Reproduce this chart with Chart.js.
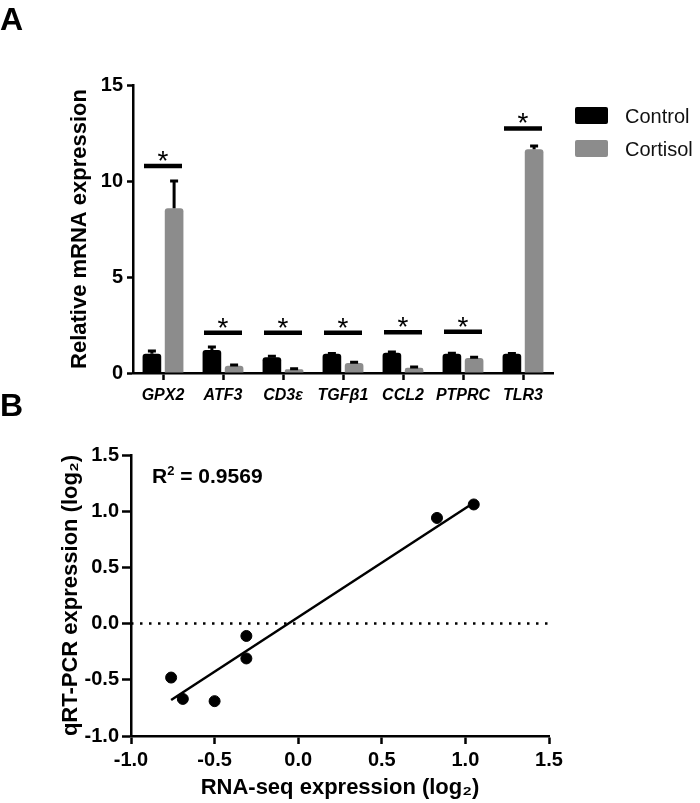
<!DOCTYPE html>
<html>
<head>
<meta charset="utf-8">
<script src="https://cdn.jsdelivr.net/npm/chart.js@4/dist/chart.umd.min.js"></script>
<style>
body { margin: 0; background: #fff; }
#wrap { position: relative; width: 700px; height: 803px; font-family: 'Liberation Sans', Arial, sans-serif; color: #000; }
canvas { position: absolute; left: 0; }
#grafico-a { top: 0; }
#grafico-b { top: 400px; }
.letra { position: absolute; left: 0; font-weight: bold; font-size: 32px; line-height: 1; }
#r2 { position: absolute; left: 152px; top: 465px; font-weight: bold; font-size: 21px; line-height: 1; white-space: nowrap; }
#r2 span { font-size: 13px; position: relative; top: -8px; }
</style>
</head>
<body>
<div id="wrap">
  <canvas id="grafico-a" width="700" height="412"></canvas>
  <canvas id="grafico-b" width="700" height="403"></canvas>
  <div class="letra" style="top:3px">A</div>
  <div class="letra" style="top:389px">B</div>
  <div id="r2">R<span>2</span> = 0.9569</div>
</div>
<script>
// painel A - dados
var genes = ["GPX2", "ATF3", "CD3ε", "TGFβ1", "CCL2", "PTPRC", "TLR3"];
var controle = [1.0, 1.2, 0.82, 1.0, 1.05, 1.0, 1.0];
var controleErro = [0.15, 0.15, 0.05, 0.02, 0.05, 0.03, 0.02];
var cortisol = [8.58, 0.38, 0.19, 0.52, 0.27, 0.78, 11.65];
var cortisolErro = [1.42, 0.04, 0.03, 0.04, 0.04, 0.04, 0.17];
var significancia = [10.78, 2.1, 2.1, 2.1, 2.12, 2.15, 12.74];
var ticksA = [0, 5, 10, 15];

// painel B - dados
var rnaSeq = [-0.76, -0.69, -0.50, -0.31, -0.31, 0.83, 1.05];
var qpcr = [-0.48, -0.67, -0.69, -0.11, -0.31, 0.94, 1.06];
var ajusteX = [-0.76, 1.05];
var ajusteY = [-0.68, 1.075];
var zeroX = [-1.0, 1.5];
var zeroY = [0, 0];

Chart.defaults.font.family = "'Liberation Sans', Arial, sans-serif";
Chart.defaults.color = "#000";

function pares(xs, ys) {
    return xs.map(function (v, i) { return {x: v, y: ys[i]}; });
}

var extrasA = {
    id: "extrasA",
    afterDatasetsDraw: function (chart) {
        var ctx = chart.ctx;
        var escalaY = chart.scales.y;
        var escalaX = chart.scales.x;
        // barras de erro
        [controleErro, cortisolErro].forEach(function (erros, d) {
            var meta = chart.getDatasetMeta(d);
            var valores = chart.data.datasets[d].data;
            meta.data.forEach(function (barra, i) {
                var yBase = escalaY.getPixelForValue(valores[i]);
                var yTopo = escalaY.getPixelForValue(valores[i] + erros[i]);
                ctx.save();
                ctx.strokeStyle = "#000";
                ctx.lineWidth = 3;
                ctx.beginPath();
                ctx.moveTo(barra.x, yBase);
                ctx.lineTo(barra.x, yTopo);
                ctx.moveTo(barra.x - 4, yTopo);
                ctx.lineTo(barra.x + 4, yTopo);
                ctx.stroke();
                ctx.restore();
            });
        });
        // linhas de significancia
        significancia.forEach(function (v, i) {
            var cx = escalaX.getPixelForValue(i);
            var cy = escalaY.getPixelForValue(v);
            ctx.save();
            ctx.strokeStyle = "#000";
            ctx.lineWidth = 4.5;
            ctx.beginPath();
            ctx.moveTo(cx - 19, cy);
            ctx.lineTo(cx + 19, cy);
            ctx.stroke();
            ctx.fillStyle = "#000";
            ctx.font = "28px 'Liberation Sans', Arial, sans-serif";
            ctx.textAlign = "center";
            ctx.textBaseline = "alphabetic";
            ctx.fillText("*", cx, cy + 4);
            ctx.restore();
        });
    },
    afterDraw: function (chart) {
        // legenda
        var ctx = chart.ctx;
        var area = chart.chartArea;
        chart.data.datasets.forEach(function (ds, i) {
            var bx = area.right + 22;
            var by = area.top + 22 + i * 33;
            ctx.save();
            ctx.fillStyle = ds.backgroundColor;
            ctx.beginPath();
            ctx.roundRect(bx, by, 33, 17, 2);
            ctx.fill();
            ctx.fillStyle = "#111";
            ctx.font = "20px 'Liberation Sans', Arial, sans-serif";
            ctx.textAlign = "left";
            ctx.textBaseline = "alphabetic";
            ctx.fillText(ds.label, bx + 50, by + 16);
            ctx.restore();
        });
    }
};

var graficoA = new Chart(document.querySelector("#grafico-a").getContext("2d"), {
    type: "bar",
    data: {
        labels: genes,
        datasets: [{
                label: "Control",
                backgroundColor: "#000000",
                data: controle,
                borderRadius: 3
            },
            {
                label: "Cortisol",
                backgroundColor: "#8c8c8c",
                data: cortisol,
                borderRadius: 3
            }
        ]
    },
    options: {
        responsive: false,
        animation: false,
        devicePixelRatio: 1,
        categoryPercentage: 0.74,
        barPercentage: 0.84,
        layout: {padding: {top: 85, right: 147, left: 0, bottom: 0}},
        plugins: {
            legend: {display: false},
            tooltip: {enabled: false}
        },
        scales: {
            x: {
                afterFit: function (s) { s.height = 39; },
                grid: {drawOnChartArea: false, offset: false, tickLength: 7, tickWidth: 2.5, tickColor: "#000"},
                border: {display: true, color: "#000", width: 2.5},
                ticks: {
                    padding: 6,
                    maxRotation: 0,
                    minRotation: 0,
                    autoSkip: false,
                    font: {size: 16, style: "italic", weight: "bold"},
                    color: "#000"
                }
            },
            y: {
                min: 0,
                max: 15,
                afterFit: function (s) { s.width = 133; },
                afterBuildTicks: function (s) { s.ticks = ticksA.map(function (v) { return {value: v}; }); },
                grid: {drawOnChartArea: false, tickLength: 6, tickWidth: 2.5, tickColor: "#000"},
                border: {display: true, color: "#000", width: 2.5},
                ticks: {padding: 4, font: {size: 20, weight: "bold"}, color: "#000"},
                title: {
                    display: true,
                    text: "Relative mRNA expression",
                    font: {size: 22, weight: "bold"},
                    color: "#000",
                    padding: {top: 67, bottom: 0}
                }
            }
        }
    },
    plugins: [extrasA]
});

var graficoB = new Chart(document.querySelector("#grafico-b").getContext("2d"), {
    type: "scatter",
    data: {
        datasets: [{
                label: "Genes",
                data: pares(rnaSeq, qpcr),
                backgroundColor: "#000",
                borderColor: "#000",
                pointRadius: 5.5,
                pointHoverRadius: 5.5
            },
            {
                label: "Ajuste",
                data: pares(ajusteX, ajusteY),
                showLine: true,
                borderColor: "#000",
                borderWidth: 2.5,
                pointRadius: 0
            },
            {
                label: "Zero",
                data: pares(zeroX, zeroY),
                showLine: true,
                borderColor: "#000",
                borderWidth: 2.5,
                borderDash: [2.5, 6.5],
                pointRadius: 0
            }
        ]
    },
    options: {
        responsive: false,
        animation: false,
        devicePixelRatio: 1,
        layout: {padding: {top: 55, right: 151, left: 0, bottom: 0}},
        plugins: {
            legend: {display: false},
            tooltip: {enabled: false}
        },
        scales: {
            x: {
                type: "linear",
                min: -1,
                max: 1.5,
                afterFit: function (s) { s.height = 67; },
                grid: {drawOnChartArea: false, tickLength: 8, tickWidth: 2.5, tickColor: "#000"},
                border: {display: true, color: "#000", width: 2.5},
                ticks: {
                    stepSize: 0.5,
                    padding: 4,
                    font: {size: 20, weight: "bold"},
                    color: "#000",
                    callback: function (v) { return v.toFixed(1); }
                },
                title: {
                    display: true,
                    text: "RNA-seq expression (log₂)",
                    font: {size: 22, weight: "bold"},
                    color: "#000",
                    padding: {top: 0, bottom: 2}
                }
            },
            y: {
                min: -1,
                max: 1.5,
                afterFit: function (s) { s.width = 131; },
                grid: {drawOnChartArea: false, tickLength: 9, tickWidth: 2.5, tickColor: "#000"},
                border: {display: true, color: "#000", width: 2.5},
                ticks: {
                    stepSize: 0.5,
                    padding: 3,
                    font: {size: 20, weight: "bold"},
                    color: "#000",
                    callback: function (v) { return v.toFixed(1); }
                },
                title: {
                    display: true,
                    text: "qRT-PCR expression (log₂)",
                    font: {size: 22, weight: "bold"},
                    color: "#000",
                    padding: {top: 58, bottom: 0}
                }
            }
        }
    }
});
</script>
</body>
</html>
